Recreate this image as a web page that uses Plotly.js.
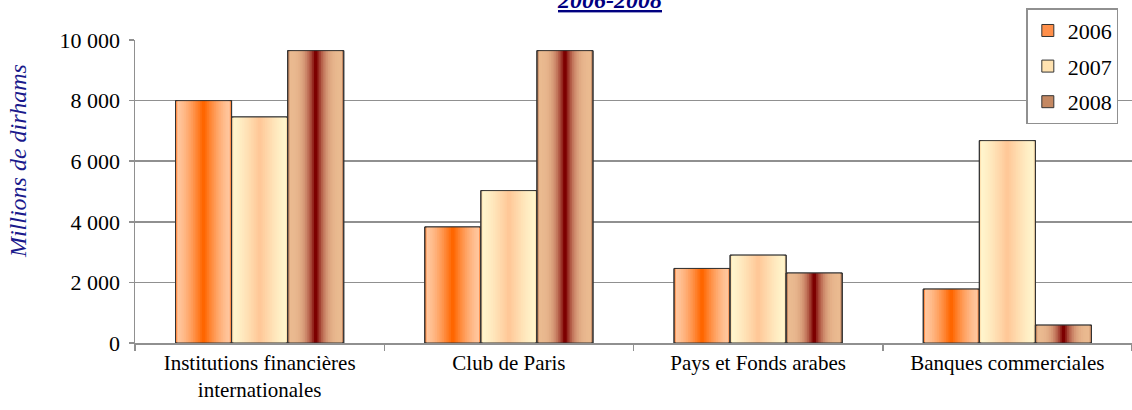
<!DOCTYPE html>
<html><head><meta charset="utf-8">
<script src="https://cdn.plot.ly/plotly-3.0.1.min.js"></script>
<style>html,body{margin:0;padding:0;background:#fff}#chart{width:1132px;height:410px}</style>
</head><body><div id="chart"></div>
<script>
const categories = ["Institutions financières<br>internationales", "Club de Paris", "Pays et Fonds arabes", "Banques commerciales"];
const years = ["2006", "2007", "2008"];
const v2006 = [8000, 3830, 2460, 1780];
const v2007 = [7460, 5030, 2900, 6680];
const v2008 = [9650, 9650, 2310, 590];
const yTicks = [0, 2000, 4000, 6000, 8000, 10000];

const FAM = "'Liberation Serif', 'Times New Roman', serif";
const series = [v2006, v2007, v2008];
const styles = [
  {edge: [255, 200, 160], center: [255, 102, 0], mid: '#ff8f4a', p: 1.5},
  {edge: [255, 246, 206], center: [255, 200, 152], mid: '#ffe2b0', p: 1.3},
  {edge: [234, 186, 144], center: [125, 0, 0], mid: '#c48862', p: 3.2}
];
const W = 0.225, N = 16;
function mix(a, b, t) { return 'rgb(' + a.map((x, i) => Math.round(x + (b[i] - x) * t)).join(',') + ')'; }

const traces = [];
series.forEach((vals, k) => {
  const start = -1.5 * W + k * W;
  const st = styles[k];
  for (let i = 0; i < N; i++) {
    const w = W * (1 - i / N);
    const t = Math.pow(i / (N - 1), st.p);
    traces.push({
      type: 'bar', x: categories, y: vals, width: w, offset: start + (W - w) / 2,
      marker: {color: i === 0 ? st.mid : mix(st.edge, st.center, t),
               line: {color: '#333', width: i === 0 ? 1 : 0}},
      name: years[k], legendgroup: years[k], showlegend: i === 0, hoverinfo: 'skip'
    });
  }
  traces.push({
    type: 'bar', x: categories, y: vals, width: W, offset: start,
    marker: {color: 'rgba(0,0,0,0)', line: {color: '#333', width: 1}},
    name: years[k], legendgroup: years[k], showlegend: false, hoverinfo: 'skip'
  });
});

const layout = {
  width: 1132, height: 410,
  margin: {l: 135, r: 0, t: 40, b: 67},
  paper_bgcolor: '#fff', plot_bgcolor: '#fff',
  barmode: 'overlay',
  separators: ', ',
  font: {family: FAM, size: 21, color: '#000'},
  showlegend: true,
  legend: {x: 0.894, y: 1.105, xanchor: 'left', yanchor: 'top', bgcolor: '#fff',
           bordercolor: '#909090', borderwidth: 1.5, traceorder: 'grouped', tracegroupgap: 4,
           font: {family: FAM, size: 22, color: '#000'}},
  xaxis: {type: 'category', showline: true, linecolor: '#909090', linewidth: 1.5,
          ticks: 'outside', tickson: 'boundaries', ticklen: 6, tickcolor: '#909090', tickwidth: 1.5,
          showgrid: false, tickfont: {family: FAM, size: 21, color: '#000'}, fixedrange: true},
  yaxis: {range: [0, 10000], tickvals: yTicks, tickformat: ',d', showline: true, linecolor: '#909090', linewidth: 1.5,
          ticks: 'outside', ticklen: 5, tickcolor: '#909090', tickwidth: 1.5, ticklabelstandoff: 4,
          showgrid: true, gridcolor: '#909090', gridwidth: 1.5, zeroline: false,
          tickfont: {family: FAM, size: 22, color: '#000'}, fixedrange: true},
  annotations: [
    {text: '<b><i><u>2006-2008</u></i></b>', xref: 'paper', yref: 'paper', x: 0.4764, y: 1.132,
     xanchor: 'center', yanchor: 'middle', showarrow: false,
     font: {family: FAM, size: 24, color: '#000080'}},
    {text: '<i>Millions de dirhams</i>', xref: 'paper', yref: 'paper', x: -0.1175, y: 0.6,
     xanchor: 'center', yanchor: 'middle', textangle: -90, showarrow: false,
     font: {family: FAM, size: 24, color: '#1a1a8c'}}
  ]
};
Plotly.newPlot('chart', traces, layout, {displayModeBar: false, staticPlot: true});
</script></body></html>
